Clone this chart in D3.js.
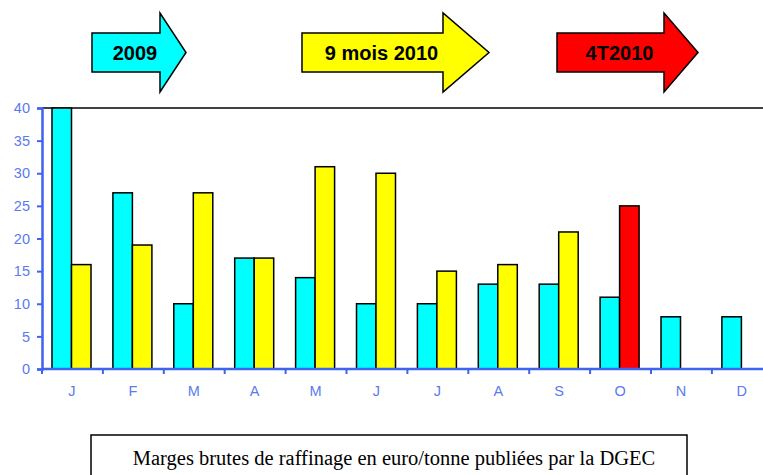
<!DOCTYPE html>
<html>
<head>
<meta charset="utf-8">
<script src="https://cdn.jsdelivr.net/npm/d3@7"></script>
<style>
  body { margin: 0; background: #fff; }
  svg { display: block; }
</style>
</head>
<body>
<div id="chart"></div>
<script>
// data
const months = ['J','F','M','A','M','J','J','A','S','O','N','D'];
const series = ['2009', '2010'];
const values2009 = [40, 27, 10, 17, 14, 10, 10, 13, 13, 11, 8, 8];
const values2010 = [16, 19, 27, 17, 31, 30, 15, 16, 21, 25, null, null];
const yTicks = [0, 5, 10, 15, 20, 25, 30, 35, 40];
const arrowLabels = ['2009', '9 mois 2010', '4T2010'];
const caption = 'Marges brutes de raffinage en euro/tonne publiées par la DGEC';

const width = 763, height = 475;
const axisBlue = '#3f63ee';
const labelBlue = '#5a7af0';

const svg = d3.select('#chart').append('svg')
    .attr('width', width)
    .attr('height', height);

const margin = { left: 42, top: 108, bottom: 369 };

// x: one band per month, keyed by index because letters repeat
const x = d3.scaleBand().domain(d3.range(months.length))
    .range([margin.left, margin.left + 12 * 60.9]);
const xInner = d3.scaleBand().domain(series).range([10, 49]);

const y = d3.scaleLinear().domain([0, 40]).range([margin.bottom, margin.top]);

// top frame line
svg.append('line')
    .attr('x1', margin.left).attr('x2', width)
    .attr('y1', y(40)).attr('y2', y(40))
    .attr('stroke', '#000').attr('stroke-width', 1.5);

// bars
const rows = months.map((m, i) => ({ i: i, v9: values2009[i], v10: values2010[i] }));

function barColor(series, i) {
    if (series === '2009') return '#00ffff';
    return i >= 9 ? '#ff0000' : '#ffff00';
}

const groups = svg.selectAll('g.month')
    .data(rows)
    .enter().append('g')
    .attr('class', 'month')
    .attr('transform', d => 'translate(' + x(d.i) + ',0)');

groups.selectAll('rect')
    .data(d => [
        { s: '2009', v: d.v9, i: d.i },
        { s: '2010', v: d.v10, i: d.i }
    ].filter(b => b.v != null))
    .enter().append('rect')
    .attr('x', b => xInner(b.s))
    .attr('y', b => y(b.v))
    .attr('width', xInner.bandwidth())
    .attr('height', b => y(0) - y(b.v))
    .attr('fill', b => barColor(b.s, b.i))
    .attr('stroke', '#000')
    .attr('stroke-width', 1.5);

// y axis
const yAxis = d3.axisLeft(y).tickValues(yTicks).tickSize(5).tickPadding(7);
const gy = svg.append('g')
    .attr('transform', 'translate(' + margin.left + ',0)')
    .call(yAxis);
gy.select('.domain').attr('stroke', axisBlue).attr('stroke-width', 2.5);
gy.selectAll('.tick line').attr('stroke', axisBlue).attr('stroke-width', 2);
gy.selectAll('.tick text')
    .attr('fill', labelBlue)
    .style('font-family', 'Liberation Sans, Arial, sans-serif')
    .style('font-size', '14.5px');

// x axis: ticks between months, letters in the middle
const xAxisLine = svg.append('g');
xAxisLine.append('line')
    .attr('x1', margin.left).attr('x2', width)
    .attr('y1', y(0)).attr('y2', y(0))
    .attr('stroke', axisBlue).attr('stroke-width', 2.5);
xAxisLine.selectAll('line.tk')
    .data(d3.range(months.length + 1))
    .enter().append('line')
    .attr('class', 'tk')
    .attr('x1', i => margin.left + i * x.step())
    .attr('x2', i => margin.left + i * x.step())
    .attr('y1', y(0)).attr('y2', y(0) + 5)
    .attr('stroke', axisBlue).attr('stroke-width', 2);
xAxisLine.selectAll('text')
    .data(rows)
    .enter().append('text')
    .attr('x', d => x(d.i) + x.bandwidth() / 2 - 0.5)
    .attr('y', 396)
    .attr('text-anchor', 'middle')
    .attr('fill', labelBlue)
    .style('font-family', 'Liberation Sans, Arial, sans-serif')
    .style('font-size', '14.5px')
    .text(d => months[d.i]);

// period arrows at top
const arrows = [
    { label: arrowLabels[0], fill: '#00ffff', left: 92, base: 160, tip: 186 },
    { label: arrowLabels[1], fill: '#ffff00', left: 302, base: 443, tip: 489 },
    { label: arrowLabels[2], fill: '#ff0000', left: 557, base: 664, tip: 698 }
];
const bodyTop = 33, bodyBottom = 72, headTop = 13, headBottom = 92, mid = 52.5;

const ag = svg.selectAll('g.arrow')
    .data(arrows)
    .enter().append('g')
    .attr('class', 'arrow');

ag.append('path')
    .attr('d', a => 'M' + a.left + ',' + bodyTop +
        'L' + a.base + ',' + bodyTop +
        'L' + a.base + ',' + headTop +
        'L' + a.tip + ',' + mid +
        'L' + a.base + ',' + headBottom +
        'L' + a.base + ',' + bodyBottom +
        'L' + a.left + ',' + bodyBottom + 'Z')
    .attr('fill', a => a.fill)
    .attr('stroke', '#000')
    .attr('stroke-width', 1.5);

ag.append('text')
    .attr('x', a => (a.left + a.base) / 2 + 9)
    .attr('y', mid + 7)
    .attr('text-anchor', 'middle')
    .style('font-family', 'Liberation Sans, Arial, sans-serif')
    .style('font-weight', 'bold')
    .style('font-size', '20px')
    .attr('fill', '#000')
    .text(a => a.label);

// caption box at bottom
svg.append('rect')
    .attr('x', 91).attr('y', 435)
    .attr('width', 596).attr('height', 60)
    .attr('fill', '#fff')
    .attr('stroke', '#000')
    .attr('stroke-width', 1.5);

svg.append('text')
    .attr('x', 394).attr('y', 465)
    .attr('text-anchor', 'middle')
    .style('font-family', 'Liberation Serif, Times New Roman, serif')
    .style('font-size', '20.5px')
    .attr('fill', '#000')
    .text(caption);
</script>
</body>
</html>
